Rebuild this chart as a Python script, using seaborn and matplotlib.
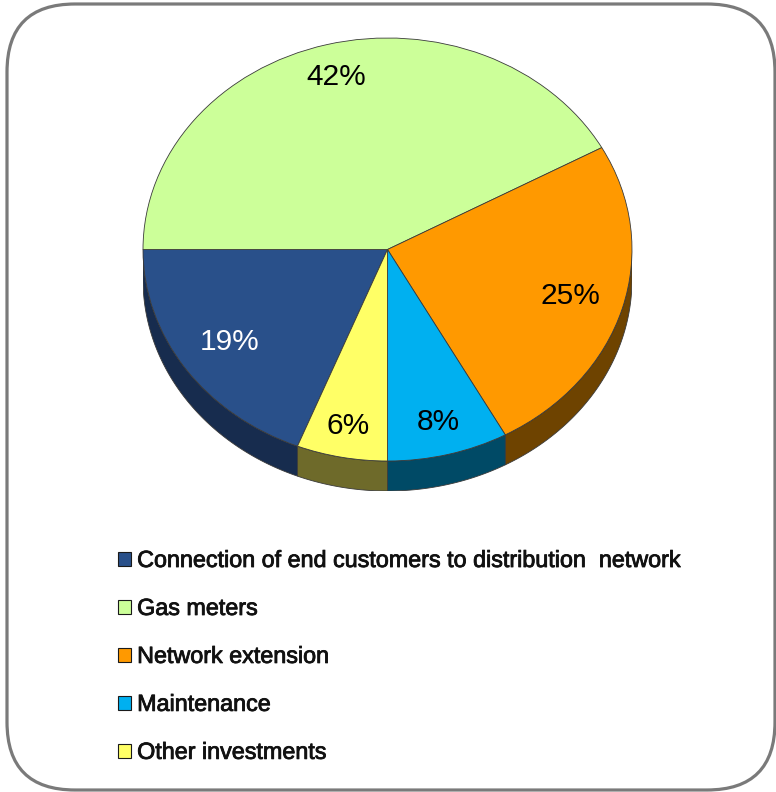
import numpy as np
import matplotlib
matplotlib.use("Agg")
import matplotlib.pyplot as plt
import matplotlib.patheffects as pe
from matplotlib.patches import FancyBboxPatch, Polygon, Patch
import seaborn as sns

# Investment structure (shares in %)
categories = [
    "Connection of end customers to distribution  network",
    "Gas meters",
    "Network extension",
    "Maintenance",
    "Other investments",
]
shares = [19, 42, 25, 8, 6]

top_colors = ["#29508A", "#CCFF99", "#FF9900", "#00B0F0", "#FFFF66"]
side_colors = ["#172C4E", "#7F9F5F", "#6E4300", "#004A66", "#6E6A2A"]
label_colors = ["white", "black", "black", "black", "black"]
label_radius = [0.78, 0.84, 0.78, 0.84, 0.85]

sns.set_theme(style="white")
plt.rcParams["font.family"] = ["Liberation Sans", "DejaVu Sans"]

W, H = 776, 792
fig = plt.figure(figsize=(W / 100, H / 100), dpi=100)
fig.patch.set_facecolor("white")

# frame with rounded corners
bg = fig.add_axes([0, 0, 1, 1])
bg.set_xlim(0, W)
bg.set_ylim(H, 0)
bg.axis("off")
bg.add_patch(FancyBboxPatch((7, 4), 768, 786,
                            boxstyle="round,pad=0,rounding_size=68",
                            fc="white", ec="#7A7A7A", lw=2.3))

# tilted pie: circle drawn in an axes whose unit square is squashed vertically
a, b = 244.5, 211.5          # half-axes of the top face, px
cx, cy = 387.5, 249.5        # centre of the top face, px from top-left
depth = 30.0                 # thickness of the disc, px
d = depth / b

pax = fig.add_axes([(cx - a) / W, (H - (cy + b + depth)) / H,
                    2 * a / W, (2 * b + depth) / H])
edge = "#3A3A3A"
total = sum(shares)
wedges, _, autotexts = pax.pie(
    shares,
    colors=top_colors,
    startangle=180 + shares[0] / total * 360,
    counterclock=False,
    autopct="%1.0f%%",
    pctdistance=0.82,
    wedgeprops=dict(edgecolor=edge, linewidth=0.6),
    textprops=dict(fontsize=21.5),
)
pax.set_xlim(-1, 1)
pax.set_ylim(-1 - d, 1)
pax.set_aspect("auto")
pax.axis("off")

# side walls of the front half of the disc
for w, sc in zip(wedges, side_colors):
    t1, t2 = w.theta1, w.theta2
    for k in (-360, 0, 360):
        lo, hi = max(t1, 180 + k), min(t2, 360 + k)
        if hi > lo:
            t = np.radians(np.linspace(lo, hi, 80))
            top = np.column_stack([np.cos(t), np.sin(t)])
            bot = np.column_stack([np.cos(t), np.sin(t) - d])[::-1]
            pax.add_patch(Polygon(np.vstack([top, bot]), closed=True,
                                  fc=sc, ec=edge, lw=0.6, zorder=0.5))

# percentage labels
for w, txt, col, r in zip(wedges, autotexts, label_colors, label_radius):
    mid = np.radians((w.theta1 + w.theta2) / 2)
    txt.set_position((r * np.cos(mid), r * np.sin(mid)))
    txt.set_color(col)

# legend below the pie
handles = [Patch(fc=c, ec="#1A1A1A", lw=0.8) for c in top_colors]
leg = fig.legend(handles, categories, loc="upper left",
                 bbox_to_anchor=(118 / W, 1 - 549 / H),
                 frameon=False, fontsize=16.8,
                 handlelength=0.56, handleheight=0.56, handletextpad=0.26,
                 labelspacing=1.07, borderpad=0, borderaxespad=0)
for t in leg.get_texts():
    t.set_color("#111111")
    t.set_path_effects([pe.withStroke(linewidth=0.6, foreground="#111111")])

fig.savefig("out.png", dpi=100, facecolor="white")
